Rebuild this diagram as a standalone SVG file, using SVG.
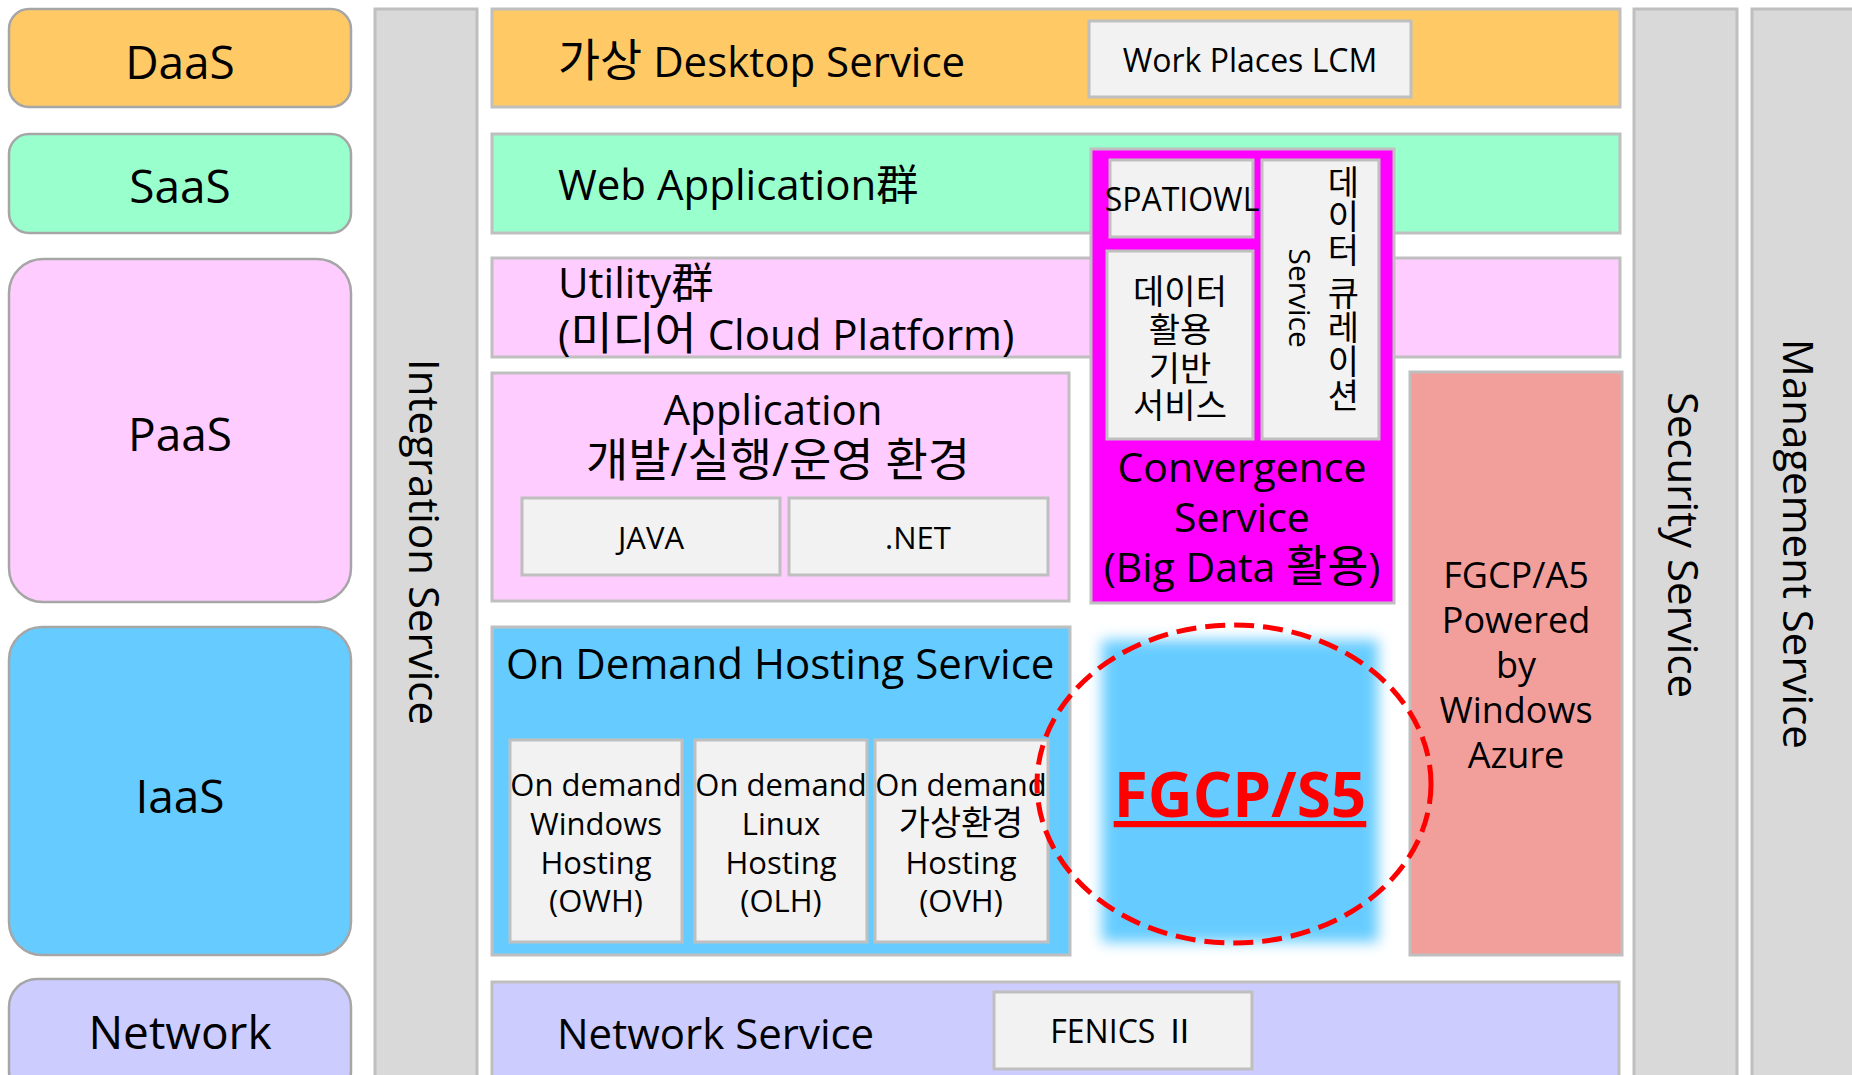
<svg xmlns="http://www.w3.org/2000/svg" width="1852" height="1075" viewBox="0 0 1852 1075">
<defs>
<style>
text { font-family: "Open Sans", "Noto Sans CJK KR", sans-serif; fill: #000; }
.layer { stroke: #a6a6a6; stroke-width: 2.5; }
.band { stroke: #bfbfbf; stroke-width: 3; }
.col { fill: #d9d9d9; stroke: #bfbfbf; stroke-width: 3; }
.sub { fill: #f2f2f2; stroke: #bfbfbf; stroke-width: 3; }
.c { text-anchor: middle; }
.k { font-size: 109%; }
.f46 { font-size: 46px; }
.f42 { font-size: 42px; }
.f41 { font-size: 41px; }
.f36 { font-size: 36px; }
.f34 { font-size: 34px; }
.f32 { font-size: 32px; }
.f31 { font-size: 31px; }
.f30 { font-size: 30px; }
.daas { fill: #ffc966; }
.saas { fill: #99ffcc; }
.paas { fill: #ffccff; }
.iaas { fill: #66ccff; }
.net { fill: #ccccff; }
</style>
<filter id="soft" x="-20%" y="-20%" width="140%" height="140%"><feGaussianBlur stdDeviation="7"/></filter>
</defs>
<rect width="1852" height="1075" fill="#ffffff"/>

<g id="layer-daas"><rect class="layer daas" x="9" y="9" width="342" height="98" rx="20"/><text class="c f46" x="180" y="79">DaaS</text></g>
<g id="layer-saas"><rect class="layer saas" x="9" y="134" width="342" height="99" rx="20"/><text class="c f46" x="180" y="203">SaaS</text></g>
<g id="layer-paas"><rect class="layer paas" x="9" y="259" width="342" height="343" rx="34"/><text class="c f46" x="180" y="451">PaaS</text></g>
<g id="layer-iaas"><rect class="layer iaas" x="9" y="627" width="342" height="328" rx="33"/><text class="c f46" x="180" y="813">IaaS</text></g>
<g id="layer-network"><rect class="layer net" x="9" y="979" width="342" height="120" rx="28"/><text class="c f46" x="180" y="1049">Network</text></g>

<g id="integration-service"><rect class="col" x="375" y="9" width="102" height="1090"/><text class="c f42" transform="translate(409 542) rotate(90)">Integration Service</text></g>
<g id="security-service"><rect class="col" x="1634" y="9" width="103" height="1090"/><text class="c f42" transform="translate(1668 545) rotate(90)">Security Service</text></g>
<g id="management-service"><rect class="col" x="1752" y="9" width="115" height="1090"/><text class="c f42" transform="translate(1783 544) rotate(90)">Management Service</text></g>

<g id="desktop-service"><rect class="band daas" x="492" y="9" width="1128" height="98"/><text class="f42" x="558" y="77"><tspan class="k">가상</tspan> Desktop Service</text>
<rect class="sub" x="1089" y="21" width="322" height="76"/><text class="c f32" x="1250" y="72">Work Places LCM</text></g>

<g id="web-application"><rect class="band saas" x="492" y="134" width="1128" height="99"/><text class="f42" x="558" y="200">Web Application群</text></g>

<g id="utility"><rect class="band paas" x="492" y="258" width="1128" height="99"/><text class="f42"><tspan x="558" y="298">Utility群</tspan><tspan x="558" y="350">(<tspan class="k">미디어</tspan> Cloud Platform)</tspan></text></g>

<g id="application-env"><rect class="band paas" x="492" y="373" width="577" height="228"/>
<text class="c f42"><tspan x="773" y="425">Application</tspan><tspan x="778" y="476" style="font-size:46px">개발/실행/운영 환경</tspan></text>
<rect class="sub" x="522" y="498" width="258" height="77"/><text class="c f31" x="651" y="549">JAVA</text>
<rect class="sub" x="789" y="498" width="259" height="77"/><text class="c f31" x="918" y="549">.NET</text></g>

<g id="convergence-service"><rect x="1091" y="149" width="303" height="454" fill="#ff00ff" stroke="#bfbfbf" stroke-width="3"/>
<rect class="sub" x="1110" y="160" width="143" height="77"/><text class="c f32" x="1182" y="211">SPATIOWL</text>
<rect class="sub" x="1107" y="251" width="146" height="188"/>
<text class="c f34"><tspan x="1180" y="304">데이터</tspan><tspan x="1180" y="342">활용</tspan><tspan x="1180" y="381">기반</tspan><tspan x="1180" y="418">서비스</tspan></text>
<rect class="sub" x="1262" y="160" width="117" height="279"/>
<text writing-mode="vertical-rl" style="font-size:34px;text-anchor:middle"><tspan x="1342" y="289">데이터 큐레이션</tspan><tspan x="1300" y="298" style="font-size:30px">Service</tspan></text>
<text class="c f41"><tspan x="1242" y="482">Convergence</tspan><tspan x="1242" y="532">Service</tspan><tspan x="1242" y="582">(Big Data <tspan class="k">활용</tspan>)</tspan></text></g>

<g id="fgcp-a5"><rect class="band" x="1410" y="372" width="212" height="583" fill="#f29f9c"/>
<text class="c f36"><tspan x="1516" y="588">FGCP/A5</tspan><tspan x="1516" y="633">Powered</tspan><tspan x="1516" y="678">by</tspan><tspan x="1516" y="723">Windows</tspan><tspan x="1516" y="768">Azure</tspan></text></g>

<g id="on-demand-hosting"><rect class="band iaas" x="492" y="627" width="578" height="328"/>
<text class="f42" x="506" y="679">On Demand Hosting Service</text>
<rect class="sub" x="510" y="740" width="172" height="202"/>
<text class="c f31"><tspan x="596" y="796">On demand</tspan><tspan x="596" y="835">Windows</tspan><tspan x="596" y="874">Hosting</tspan><tspan x="596" y="912">(OWH)</tspan></text>
<rect class="sub" x="695" y="740" width="172" height="202"/>
<text class="c f31"><tspan x="781" y="796">On demand</tspan><tspan x="781" y="835">Linux</tspan><tspan x="781" y="874">Hosting</tspan><tspan x="781" y="912">(OLH)</tspan></text>
<rect class="sub" x="875" y="740" width="173" height="202"/>
<text class="c f31"><tspan x="961" y="796">On demand</tspan><tspan x="961" y="835" class="k">가상환경</tspan><tspan x="961" y="874">Hosting</tspan><tspan x="961" y="912">(OVH)</tspan></text></g>

<g id="fgcp-s5"><rect x="1102" y="640" width="276" height="302" fill="#66ccff" filter="url(#soft)"/>
<text class="c" x="1240" y="817" style="font-size:62px;font-weight:bold;fill:#ff0000;text-decoration:underline">FGCP/S5</text>
<ellipse cx="1234" cy="784" rx="197" ry="159" fill="none" stroke="#ff0000" stroke-width="5" stroke-dasharray="20 9"/></g>

<g id="network-service"><rect class="band net" x="492" y="982" width="1127" height="120"/><text class="f42" x="557" y="1049">Network Service</text>
<rect class="sub" x="994" y="992" width="258" height="77"/><text class="c f32" x="1123" y="1043">FENICS Ⅱ</text></g>

<g id="connectors"></g>
</svg>
